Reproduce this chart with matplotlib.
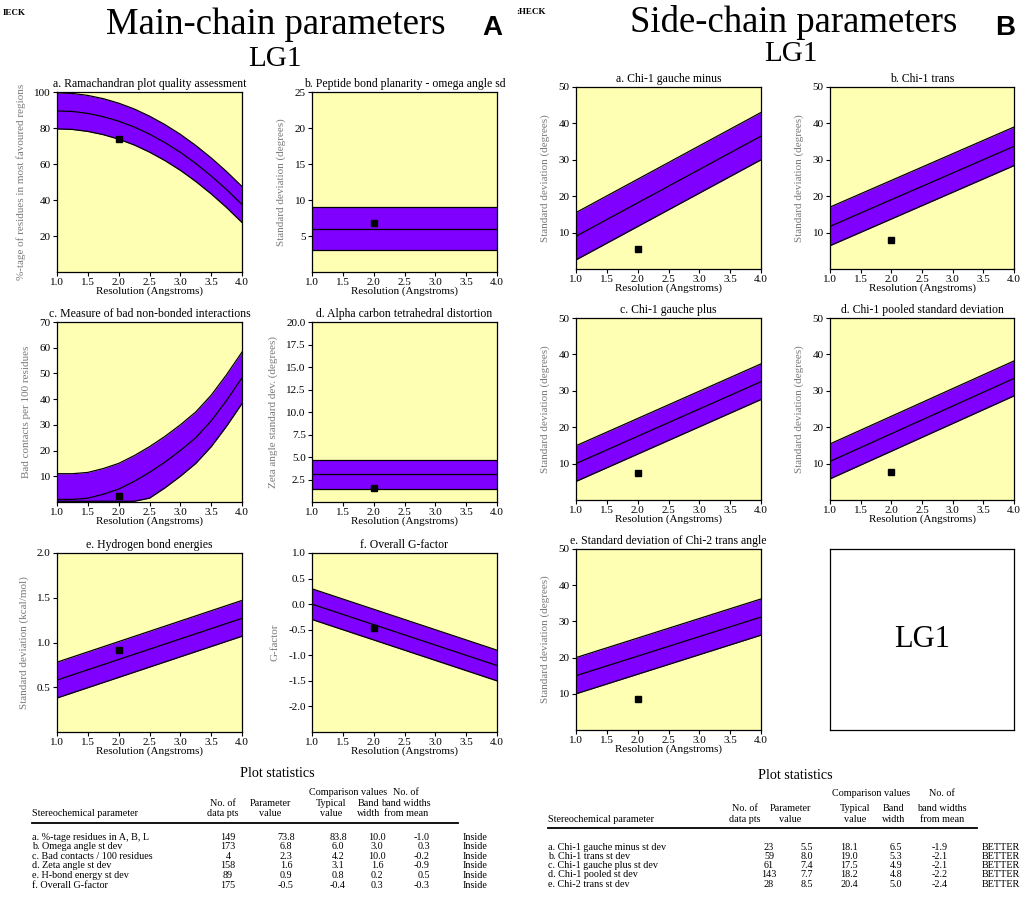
import numpy as np
import matplotlib
matplotlib.use("Agg")
import matplotlib.pyplot as plt
from matplotlib.ticker import FormatStrFormatter

# ---------------- data ----------------
res_curve = [1.0, 1.25, 1.5, 1.75, 2.0, 2.25, 2.5, 2.75, 3.0, 3.25, 3.5, 3.75, 4.0]
rama_mean = [89.5, 89.2, 88.1, 86.3, 83.8, 80.6, 76.6, 71.9, 66.5, 60.3, 53.4, 45.8, 37.5]
bad_mean = [1.0, 1.0, 1.5, 3.0, 5.0, 8.0, 11.5, 15.5, 20.0, 25.0, 31.5, 39.5, 48.3]

res_line = [1.0, 4.0]
omega_mean = [6.0, 6.0]
zeta_mean = [3.1, 3.1]
hbond_mean = [0.58, 1.27]
gfactor_mean = [0.0, -1.2]
chi1_gm_mean = [9.0, 36.5]
chi1_trans_mean = [11.7, 33.7]
chi1_gp_mean = [10.0, 32.5]
chi1_pooled_mean = [10.6, 33.4]
chi2_trans_mean = [15.0, 31.2]

main_titles = ["a. Ramachandran plot quality assessment",
               "b. Peptide bond planarity - omega angle sd",
               "c. Measure of bad non-bonded interactions",
               "d. Alpha carbon tetrahedral distortion",
               "e. Hydrogen bond energies",
               "f. Overall G-factor"]
main_ylabels = ["%-tage of residues in most favoured regions",
                "Standard deviation (degrees)",
                "Bad contacts per 100 residues",
                "Zeta angle standard dev. (degrees)",
                "Standard deviation (kcal/mol)",
                "G-factor"]
main_bandwidth = [10.0, 3.0, 10.0, 1.6, 0.2, 0.3]
main_value = [73.8, 6.8, 2.3, 1.6, 0.92, -0.47]
main_ylim = [(0, 100), (0, 25), (0, 70), (0, 20), (0, 2.0), (-2.5, 1.0)]
main_yticks = [[20, 40, 60, 80, 100], [5, 10, 15, 20, 25],
               [10, 20, 30, 40, 50, 60, 70],
               [2.5, 5.0, 7.5, 10.0, 12.5, 15.0, 17.5, 20.0],
               [0.5, 1.0, 1.5, 2.0], [-2.0, -1.5, -1.0, -0.5, 0.0, 0.5, 1.0]]

side_titles = ["a. Chi-1 gauche minus", "b. Chi-1 trans", "c. Chi-1 gauche plus",
               "d. Chi-1 pooled standard deviation",
               "e. Standard deviation of Chi-2 trans angle"]
side_bandwidth = [6.5, 5.3, 4.9, 4.8, 5.0]
side_value = [5.5, 8.0, 7.4, 7.7, 8.5]
side_yticks = [10, 20, 30, 40, 50]
xticks = [1.0, 1.5, 2.0, 2.5, 3.0, 3.5, 4.0]
point_res = 2.0

# table data
main_rows = ["a. %-tage residues in A, B, L", "b. Omega angle st dev",
             "c. Bad contacts / 100 residues", "d. Zeta angle st dev",
             "e. H-bond energy st dev", "f. Overall G-factor"]
main_npts = ["149", "173", "4", "158", "89", "175"]
main_param = ["73.8", "6.8", "2.3", "1.6", "0.9", "-0.5"]
main_typical = ["83.8", "6.0", "4.2", "3.1", "0.8", "-0.4"]
main_band = ["10.0", "3.0", "10.0", "1.6", "0.2", "0.3"]
main_nbw = ["-1.0", "0.3", "-0.2", "-0.9", "0.5", "-0.3"]
main_flag = ["Inside"] * 6

side_rows = ["a. Chi-1 gauche minus st dev", "b. Chi-1 trans st dev",
             "c. Chi-1 gauche plus st dev", "d. Chi-1 pooled st dev",
             "e. Chi-2 trans st dev"]
side_npts = ["23", "59", "61", "143", "28"]
side_param = ["5.5", "8.0", "7.4", "7.7", "8.5"]
side_typical = ["18.1", "19.0", "17.5", "18.2", "20.4"]
side_band = ["6.5", "5.3", "4.9", "4.8", "5.0"]
side_nbw = ["-1.9", "-2.1", "-2.1", "-2.2", "-2.4"]
side_flag = ["BETTER"] * 5

# ---------------- style ----------------
W, H = 1022, 897
SERIF = "Liberation Serif"
SANS = "Liberation Sans"
YELLOW = "#FFFFB4"
PURPLE = "#7F00FF"
GREY = "#7a7a7a"

fig = plt.figure(figsize=(W / 100, H / 100), dpi=100)
fig.patch.set_facecolor("white")


def fx(px):
    return px / W


def fy(py):
    return 1 - py / H


def add_ax(left, top, right, bottom):
    return fig.add_axes([fx(left), fy(bottom), (right - left) / W, (bottom - top) / H])


def band_panel(ax, x, mean, width, ylim, yticks, value, title, ylabel, fmt=None):
    x = np.asarray(x, float)
    mean = np.asarray(mean, float)
    lo_lim, hi_lim = ylim
    upper = np.minimum(mean + width, hi_lim)
    lower = np.maximum(mean - width, lo_lim + 0.004 * (hi_lim - lo_lim))
    ax.set_facecolor(YELLOW)
    ax.fill_between(x, lower, upper, color=PURPLE, lw=0, zorder=1)
    for arr in (upper, lower, mean):
        ax.plot(x, arr, color="black", lw=0.9, zorder=2)
    ax.plot([point_res], [value], marker="s", color="black", ms=5, ls="none", zorder=3)
    ax.set_xlim(1.0, 4.0)
    ax.set_ylim(*ylim)
    ax.set_xticks(xticks)
    ax.set_yticks(yticks)
    ax.xaxis.set_major_formatter(FormatStrFormatter("%.1f"))
    if fmt:
        ax.yaxis.set_major_formatter(FormatStrFormatter(fmt))
    ax.tick_params(direction="out", length=3, width=0.8, pad=1.5, labelsize=8)
    for lab in ax.get_xticklabels() + ax.get_yticklabels():
        lab.set_fontfamily(SERIF)
    for s in ax.spines.values():
        s.set_linewidth(0.9)
    ax.set_title(title, fontsize=8.5, family=SERIF, pad=3.5)
    ax.set_xlabel("Resolution (Angstroms)", fontsize=8, family=SERIF, labelpad=-0.5)
    ax.set_ylabel(ylabel, fontsize=8, family=SERIF, color=GREY, labelpad=6)


# ---------------- main-chain panels ----------------
main_boxes = [(57, 92, 242, 272), (312, 92, 497, 272),
              (57, 322, 242, 502), (312, 322, 497, 502),
              (57, 553, 242, 732), (312, 553, 497, 732)]
main_x = [res_curve, res_line, res_curve, res_line, res_line, res_line]
main_means = [rama_mean, omega_mean, bad_mean, zeta_mean, hbond_mean, gfactor_mean]
main_fmt = [None, None, None, "%.1f", "%.1f", "%.1f"]
for i in range(6):
    ax = add_ax(*main_boxes[i])
    band_panel(ax, main_x[i], main_means[i], main_bandwidth[i], main_ylim[i],
               main_yticks[i], main_value[i], main_titles[i], main_ylabels[i], main_fmt[i])

# ---------------- side-chain panels ----------------
side_boxes = [(576, 87, 761, 269), (830, 87, 1014, 269),
              (576, 318, 761, 500), (830, 318, 1014, 500),
              (576, 549, 761, 730)]
side_means = [chi1_gm_mean, chi1_trans_mean, chi1_gp_mean, chi1_pooled_mean, chi2_trans_mean]
for i in range(5):
    ax = add_ax(*side_boxes[i])
    band_panel(ax, res_line, side_means[i], side_bandwidth[i], (0, 50), side_yticks,
               side_value[i], side_titles[i], "Standard deviation (degrees)")

# LG1 box
axb = add_ax(830, 549, 1014, 730)
axb.set_xticks([])
axb.set_yticks([])
axb.set_facecolor("white")
for s in axb.spines.values():
    s.set_linewidth(0.9)
axb.text(0.5, 0.5, "LG1", ha="center", va="center", fontsize=22, family=SERIF,
         transform=axb.transAxes)

# ---------------- headings ----------------
fig.text(fx(276), fy(25), "Main-chain parameters", ha="center", va="center",
         fontsize=26.5, family=SERIF)
fig.text(fx(275), fy(59), "LG1", ha="center", va="center", fontsize=21, family=SERIF)
fig.text(fx(794), fy(22), "Side-chain parameters", ha="center", va="center",
         fontsize=26.5, family=SERIF)
fig.text(fx(791), fy(54), "LG1", ha="center", va="center", fontsize=21, family=SERIF)
fig.text(fx(492), fy(28), "A", ha="center", va="center", fontsize=20,
         family=SANS, weight="bold")
fig.text(fx(1005), fy(28), "B", ha="center", va="center", fontsize=20,
         family=SANS, weight="bold")
fig.text(fx(3), fy(13), "IECK", ha="left", va="center", fontsize=6.5, family=SERIF,
         weight="bold")
fig.text(fx(516), fy(12), ":HECK", ha="left", va="center", fontsize=6.5, family=SERIF,
         weight="bold")


# ---------------- tables ----------------
def draw_table(x0, cols, ys, rows, npts, param, typical, band, nbw, flag):
    (c_npts_h, c_npts, c_param_h, c_param, c_typ_h, c_typ, c_band_h, c_band,
     c_nbw_h, c_nbw, c_flag, c_title, c_comp, line_end) = cols
    y_title, y_h1, y_h2, y_h3, y_line, y_row0, dy = ys
    fs = 7.3
    kw = dict(family=SERIF, fontsize=fs, va="center")
    fig.text(fx(c_title), fy(y_title), "Plot statistics", ha="center", va="center",
             family=SERIF, fontsize=10.2)
    fig.text(fx(c_comp), fy(y_h1), "Comparison values", ha="center", **kw)
    fig.text(fx(c_nbw_h), fy(y_h1), "No. of", ha="center", **kw)
    fig.text(fx(c_npts_h), fy(y_h2), "No. of", ha="center", **kw)
    fig.text(fx(c_param_h), fy(y_h2), "Parameter", ha="center", **kw)
    fig.text(fx(c_typ_h), fy(y_h2), "Typical", ha="center", **kw)
    fig.text(fx(c_band_h), fy(y_h2), "Band", ha="center", **kw)
    fig.text(fx(c_nbw_h), fy(y_h2), "band widths", ha="center", **kw)
    fig.text(fx(x0), fy(y_h3), "Stereochemical parameter", ha="left", **kw)
    fig.text(fx(c_npts_h), fy(y_h3), "data pts", ha="center", **kw)
    fig.text(fx(c_param_h), fy(y_h3), "value", ha="center", **kw)
    fig.text(fx(c_typ_h), fy(y_h3), "value", ha="center", **kw)
    fig.text(fx(c_band_h), fy(y_h3), "width", ha="center", **kw)
    fig.text(fx(c_nbw_h), fy(y_h3), "from mean", ha="center", **kw)
    fig.add_artist(plt.Line2D([fx(x0), fx(line_end)], [fy(y_line), fy(y_line)],
                              color="black", lw=1.3))
    for k in range(len(rows)):
        y = fy(y_row0 + k * dy)
        fig.text(fx(x0), y, rows[k], ha="left", **kw)
        fig.text(fx(c_npts), y, npts[k], ha="center", **kw)
        fig.text(fx(c_param), y, param[k], ha="center", **kw)
        fig.text(fx(c_typ), y, typical[k], ha="center", **kw)
        fig.text(fx(c_band), y, band[k], ha="center", **kw)
        fig.text(fx(c_nbw), y, nbw[k], ha="right", **kw)
        fig.text(fx(c_flag), y, flag[k], ha="left", **kw)


draw_table(32,
           (223, 228, 270, 286, 331, 338, 369, 377, 406, 430, 463, 277, 348, 458),
           (773, 792, 803, 813, 823, 837, 9.6),
           main_rows, main_npts, main_param, main_typical, main_band, main_nbw, main_flag)
draw_table(548,
           (745, 769, 790, 807, 855, 849, 894, 896, 942, 948, 982, 795, 871, 977),
           (775, 793, 808, 819, 828, 847, 9.25),
           side_rows, side_npts, side_param, side_typical, side_band, side_nbw, side_flag)

fig.savefig("out.png", dpi=100, facecolor="white")
